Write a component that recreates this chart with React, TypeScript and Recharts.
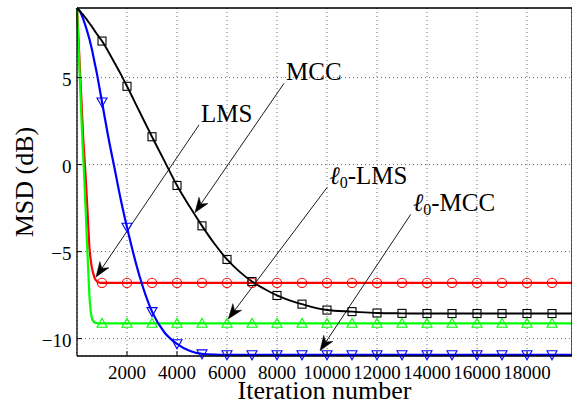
import React from 'react';
import {
  CartesianGrid,
  Label,
  Line,
  LineChart,
  ReferenceLine,
  XAxis,
  YAxis,
} from 'recharts';

const iterations = [
  0, 50, 100, 150, 200, 250, 300, 350, 400, 450, 500, 550, 600, 650, 700, 800,
  900, 1000, 1250, 1500, 1750, 2000, 2500, 3000, 3500, 4000, 4500, 5000, 5500,
  6000, 6500, 7000, 7500, 8000, 8500, 9000, 10000, 11000, 12000, 13000, 14000,
  15000, 16000, 17000, 18000, 19000, 19800,
];

const mccMsd = [
  9, 8.92, 8.84, 8.76, 8.68, 8.6, 8.5, 8.42, 8.32, 8.22, 8.12, 8.02, 7.92, 7.82,
  7.7, 7.5, 7.3, 7.1, 6.5, 5.85, 5.2, 4.5, 3.05, 1.6, 0.2, -1.2, -2.4, -3.52,
  -4.55, -5.45, -6.15, -6.72, -7.15, -7.52, -7.8, -8.02, -8.36, -8.45, -8.53,
  -8.55, -8.56, -8.56, -8.56, -8.56, -8.56, -8.56, -8.56,
];

const lmsMsd = [
  9, 7.5, 6.0, 4.5, 3.0, 1.5, 0.4, -0.8, -2.1, -3.5, -4.8, -5.5, -5.95, -6.25,
  -6.5, -6.72, -6.78, -6.8, -6.8, -6.8, -6.8, -6.8, -6.8, -6.8, -6.8, -6.8,
  -6.8, -6.8, -6.8, -6.8, -6.8, -6.8, -6.8, -6.8, -6.8, -6.8, -6.8, -6.8, -6.8,
  -6.8, -6.8, -6.8, -6.8, -6.8, -6.8, -6.8, -6.8,
];

const l0LmsMsd = [
  9, 7.2, 5.45, 3.65, 1.9, 0.4, -1.1, -2.8, -4.5, -6.1, -7.6, -8.45, -8.85,
  -9.0, -9.07, -9.11, -9.12, -9.12, -9.12, -9.12, -9.12, -9.12, -9.12, -9.12,
  -9.12, -9.12, -9.12, -9.12, -9.12, -9.12, -9.12, -9.12, -9.12, -9.12, -9.12,
  -9.12, -9.12, -9.12, -9.12, -9.12, -9.12, -9.12, -9.12, -9.12, -9.12, -9.12,
  -9.12,
];

const l0MccMsd = [
  9, 8.93, 8.85, 8.72, 8.55, 8.36, 8.15, 7.93, 7.7, 7.45, 7.2, 6.9, 6.6, 6.25,
  5.9, 5.2, 4.4, 3.6, 1.6, -0.2, -2.0, -3.6, -6.4, -8.45, -9.65, -10.3, -10.7,
  -10.88, -10.92, -10.93, -10.93, -10.93, -10.93, -10.93, -10.93, -10.93,
  -10.93, -10.93, -10.93, -10.93, -10.93, -10.93, -10.93, -10.93, -10.93,
  -10.93, -10.93,
];

const xTicks = [2000, 4000, 6000, 8000, 10000, 12000, 14000, 16000, 18000];
const yTicks = [-10, -5, 0, 5];

// arrow: text end [iter, dB] -> tip [iter, dB]
const annotations = [
  { ell: false, text: 'LMS', from: [4880, 2.28], to: [760, -6.46] },
  { ell: false, text: 'MCC', from: [8280, 4.67], to: [4720, -2.76] },
  { ell: true, text: '-LMS', from: [10010, -1.3], to: [6050, -8.87] },
  { ell: true, text: '-MCC', from: [13350, -2.86], to: [9720, -10.7] },
];

const data = iterations.map((iter, i) => ({
  iter,
  mcc: mccMsd[i],
  lms: lmsMsd[i],
  l0lms: l0LmsMsd[i],
  l0mcc: l0MccMsd[i],
}));

const FONT = "'Liberation Serif', 'Times New Roman', serif";

function makeDot(kind: string, color: string) {
  return (props: any) => {
    const { cx, cy, payload, index } = props;
    if (!payload || payload.iter === 0 || payload.iter % 1000 !== 0) {
      return <g key={`e${index}`} />;
    }
    const common = { fill: 'none', stroke: color, strokeWidth: 1.1 };
    if (kind === 'square') {
      return <rect key={`d${index}`} x={cx - 4} y={cy - 4} width={8} height={8} {...common} />;
    }
    if (kind === 'circle') {
      return <circle key={`d${index}`} cx={cx} cy={cy} r={4.6} {...common} />;
    }
    if (kind === 'up') {
      return (
        <polygon
          key={`d${index}`}
          points={`${cx - 5},${cy + 4} ${cx + 5},${cy + 4} ${cx},${cy - 5}`}
          {...common}
        />
      );
    }
    return (
      <polygon
        key={`d${index}`}
        points={`${cx - 5},${cy - 4} ${cx + 5},${cy - 4} ${cx},${cy + 5}`}
        {...common}
      />
    );
  };
}

function arrowShape(a: (typeof annotations)[number]) {
  return (p: any) => {
    const { x1, y1, x2, y2 } = p;
    const dx = x2 - x1;
    const dy = y2 - y1;
    const len = Math.hypot(dx, dy) || 1;
    const ux = dx / len;
    const uy = dy / len;
    const nx = -uy;
    const ny = ux;
    const L = 15;
    const W = 5.5;
    const N = 10.5;
    const bx = x2 - ux * L;
    const by = y2 - uy * L;
    const pts = [
      [x2, y2],
      [bx + nx * W, by + ny * W],
      [x2 - ux * N, y2 - uy * N],
      [bx - nx * W, by - ny * W],
    ]
      .map(q => q.join(','))
      .join(' ');
    return (
      <g>
        <line x1={x1} y1={y1} x2={x2 - ux * N} y2={y2 - uy * N} stroke="#000" strokeWidth={0.9} />
        <polygon points={pts} fill="#000" stroke="#000" strokeWidth={0.5} />
        <text x={x1 + 2} y={y1 - 3} fontFamily={FONT} fontSize={25} fill="#000">
          {a.ell ? (
            <>
              <tspan fontStyle="italic">ℓ</tspan>
              <tspan fontSize={16} dy={4}>0</tspan>
              <tspan dy={-4}>{a.text}</tspan>
            </>
          ) : (
            a.text
          )}
        </text>
      </g>
    );
  };
}

const fmtY = (v: number) => (v < 0 ? `\u2212${Math.abs(v)}` : `${v}`);

export default function App() {
  return (
    <div
      style={{
        position: 'absolute',
        left: 0,
        top: 0,
        width: 572,
        height: 401,
        overflow: 'hidden',
        background: '#fff',
      }}
    >
      <LineChart
        width={573}
        height={401}
        data={data}
        margin={{ top: 7, right: 0, bottom: 0, left: 0 }}
      >
        <CartesianGrid stroke="#444" strokeDasharray="1 3" strokeWidth={0.8} />
        <XAxis
          dataKey="iter"
          type="number"
          domain={[0, 19800]}
          ticks={xTicks}
          interval={0}
          height={45}
          tickSize={-5}
          tickMargin={15}
          axisLine={{ stroke: '#000', strokeWidth: 1.3 }}
          tickLine={{ stroke: '#000' }}
          tick={{ fill: '#000', fontSize: 19, fontFamily: FONT }}
        >
          <Label
            content={(props: any) => {
              const vb = props.viewBox || { x: 77, y: 356, width: 495, height: 45 };
              return (
                <text
                  x={vb.x + vb.width / 2}
                  y={vb.y + vb.height - 2}
                  textAnchor="middle"
                  fontFamily={FONT}
                  fontSize={26}
                  fill="#000"
                >
                  Iteration number
                </text>
              );
            }}
          />
        </XAxis>
        <XAxis
          xAxisId="top"
          orientation="top"
          type="number"
          domain={[0, 19800]}
          ticks={xTicks}
          interval={0}
          height={1}
          tickSize={-5}
          tick={false}
          axisLine={{ stroke: '#000', strokeWidth: 1.3 }}
          tickLine={{ stroke: '#000' }}
        />
        <YAxis
          type="number"
          domain={[-11, 9]}
          ticks={yTicks}
          interval={0}
          width={77}
          tickSize={-5}
          tickMargin={10.5}
          tickFormatter={fmtY}
          axisLine={{ stroke: '#000', strokeWidth: 1.3 }}
          tickLine={{ stroke: '#000' }}
          tick={{ fill: '#000', fontSize: 19, fontFamily: FONT, dy: 2 }}
        >
          <Label
            content={(props: any) => {
              const vb = props.viewBox || { x: 0, y: 8, width: 77, height: 348 };
              const cx = vb.x + 33;
              const cy = vb.y + vb.height / 2;
              return (
                <text
                  x={cx}
                  y={cy}
                  transform={`rotate(-90, ${cx}, ${cy})`}
                  textAnchor="middle"
                  fontFamily={FONT}
                  fontSize={26}
                  fill="#000"
                >
                  MSD (dB)
                </text>
              );
            }}
          />
        </YAxis>
        <YAxis
          yAxisId="right"
          orientation="right"
          type="number"
          domain={[-11, 9]}
          ticks={yTicks}
          interval={0}
          width={1}
          tickSize={-5}
          tick={false}
          axisLine={{ stroke: '#000', strokeWidth: 1.3 }}
          tickLine={{ stroke: '#000' }}
        />
        <Line
          type="monotone"
          dataKey="lms"
          stroke="#ff0000"
          strokeWidth={2.2}
          dot={makeDot('circle', '#ff0000')}
          activeDot={false}
          isAnimationActive={false}
        />
        <Line
          type="monotone"
          dataKey="l0lms"
          stroke="#00ff00"
          strokeWidth={2.2}
          dot={makeDot('up', '#00ff00')}
          activeDot={false}
          isAnimationActive={false}
        />
        <Line
          type="monotone"
          dataKey="l0mcc"
          stroke="#0000ff"
          strokeWidth={2.2}
          dot={makeDot('down', '#0000ff')}
          activeDot={false}
          isAnimationActive={false}
        />
        <Line
          type="monotone"
          dataKey="mcc"
          stroke="#000000"
          strokeWidth={1.9}
          dot={makeDot('square', '#000000')}
          activeDot={false}
          isAnimationActive={false}
        />
        {annotations.map((a, i) => (
          <ReferenceLine
            key={i}
            segment={[
              { x: a.from[0], y: a.from[1] },
              { x: a.to[0], y: a.to[1] },
            ]}
            ifOverflow="visible"
            shape={arrowShape(a)}
          />
        ))}
      </LineChart>
    </div>
  );
}
